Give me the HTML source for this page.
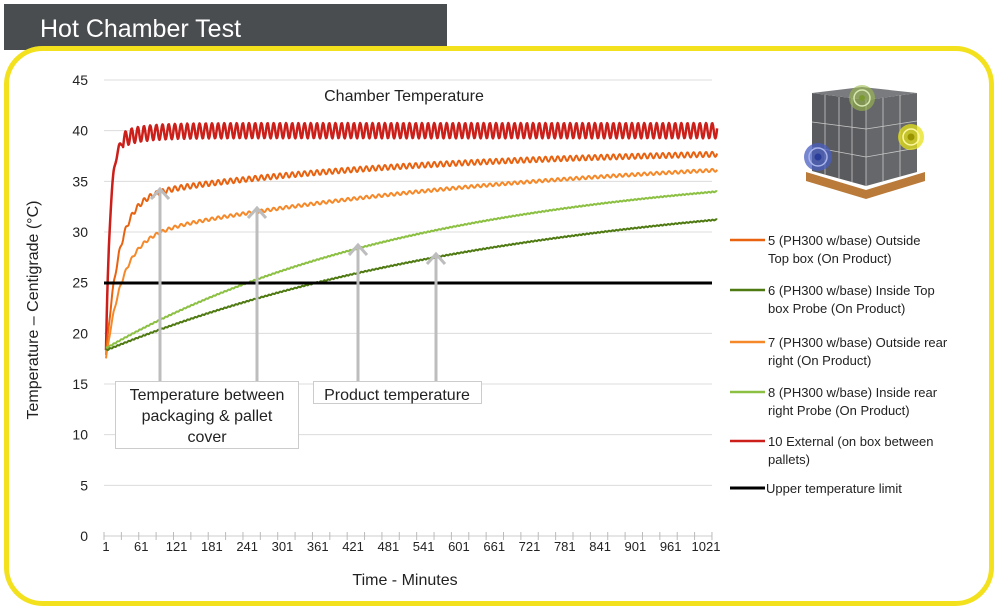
<!DOCTYPE html>
<html><head><meta charset="utf-8"><style>
html,body{margin:0;padding:0;background:#fff;}
body{width:1000px;height:612px;position:relative;overflow:hidden;font-family:"Liberation Sans",sans-serif;}
svg{position:absolute;left:0;top:0;}
</style></head><body>
<svg id="s" width="1000" height="612" xmlns="http://www.w3.org/2000/svg">
<rect x="4" y="4" width="443" height="46" fill="#4a4d50"/>
<text x="40" y="37" font-size="25" fill="#fff" font-family="Liberation Sans, sans-serif">Hot Chamber Test</text>
<rect x="6.5" y="48.5" width="985" height="555" rx="36" ry="36" fill="#fff" stroke="#f2e11c" stroke-width="5"/>
<g id="grid" stroke="#dcdcdc" stroke-width="1"></g>
<g id="ylab" font-size="14" fill="#222" text-anchor="end"></g>
<g id="xlab" font-size="13" fill="#222" text-anchor="middle"></g>
<line x1="104" y1="536" x2="712" y2="536" stroke="#ccc"/>
<g id="ticks" stroke="#bbb"></g>
<text x="405" y="585" font-size="16" text-anchor="middle" fill="#222">Time - Minutes</text>
<text transform="translate(38,310) rotate(-90)" font-size="16" text-anchor="middle" fill="#222">Temperature – Centigrade (°C)</text>
<text x="404" y="101" font-size="16" text-anchor="middle" fill="#222">Chamber Temperature</text>
<g id="series" fill="none"></g>
<line x1="104" y1="283" x2="712" y2="283" stroke="#000" stroke-width="3"/>
<g stroke="#bdbdbd" stroke-width="3" fill="none">
<line x1="160" y1="381" x2="160" y2="190"/><polyline points="151,199 160,189 169,199"/>
<line x1="257" y1="381" x2="257" y2="209"/><polyline points="248,218 257,208 266,218"/>
<line x1="358" y1="381" x2="358" y2="246"/><polyline points="349,255 358,245 367,255"/>
<line x1="436" y1="381" x2="436" y2="255"/><polyline points="427,264 436,254 445,264"/>
</g>
<rect x="115.5" y="381.5" width="183" height="67" fill="#fff" stroke="#ccc"/>
<text font-size="16" fill="#222" text-anchor="middle"><tspan x="207" y="400">Temperature between</tspan><tspan x="207" y="421">packaging &amp; pallet</tspan><tspan x="207" y="442">cover</tspan></text>
<rect x="313.5" y="381.5" width="168" height="22" fill="#fff" stroke="#ccc"/>
<text x="397" y="400" font-size="16" fill="#222" text-anchor="middle">Product temperature</text>
<g stroke-width="2.5">
<line x1="730" y1="240" x2="765" y2="240" stroke="#e8620f"/>
<line x1="730" y1="290" x2="765" y2="290" stroke="#4f7a12"/>
<line x1="730" y1="342" x2="765" y2="342" stroke="#f5892a"/>
<line x1="730" y1="392" x2="765" y2="392" stroke="#8cc043"/>
<line x1="730" y1="441" x2="765" y2="441" stroke="#cc1f1a"/>
<line x1="730" y1="488" x2="765" y2="488" stroke="#000" stroke-width="3"/>
</g>
<g font-size="13" fill="#222">
<text x="768" y="245">5 (PH300 w/base)  Outside</text><text x="768" y="263">Top box (On Product)</text>
<text x="768" y="295">6 (PH300 w/base) Inside Top</text><text x="768" y="313">box Probe (On Product)</text>
<text x="768" y="347">7 (PH300 w/base) Outside rear</text><text x="768" y="365">right (On Product)</text>
<text x="768" y="397">8 (PH300 w/base) Inside rear</text><text x="768" y="415">right Probe (On Product)</text>
<text x="768" y="446">10 External (on box between</text><text x="768" y="464">pallets)</text>
<text x="766" y="493">Upper temperature limit</text>
</g>
<!-- pallet -->
<polygon points="806,172 866,190 925,172 925,181 866,199 806,181" fill="#b97a3a"/>
<polygon points="812,93 866,100 866,186 812,171" fill="#5a5b5e"/>
<polygon points="866,100 917,93 917,172 866,186" fill="#66676a"/>
<polygon points="812,93 862,87 917,93 866,100" fill="#7a7b7e"/>
<g stroke="#c8c8c8" stroke-width="0.8">
<line x1="812" y1="122" x2="866" y2="129"/><line x1="866" y1="129" x2="917" y2="121"/>
<line x1="812" y1="147" x2="866" y2="157"/><line x1="866" y1="157" x2="917" y2="148"/>
<line x1="866" y1="100" x2="866" y2="186"/>
<line x1="825" y1="95" x2="825" y2="175"/><line x1="839" y1="97" x2="839" y2="179"/><line x1="852" y1="98" x2="852" y2="182"/>
<line x1="883" y1="98" x2="883" y2="181"/><line x1="900" y1="95" x2="900" y2="177"/>
</g>
<g fill="none">
<circle cx="862" cy="98" r="13" fill="#9bbb4f" opacity="0.6"/><circle cx="862" cy="98" r="8" stroke="#d8e8b0" stroke-width="1.5"/><circle cx="862" cy="98" r="3" fill="#7a9a30"/>
<circle cx="911" cy="137" r="13" fill="#e6e21a" opacity="0.75"/><circle cx="911" cy="137" r="8" stroke="#fff8a0" stroke-width="1.5"/><circle cx="911" cy="137" r="3.5" fill="#9a9400"/>
<circle cx="818" cy="157" r="14" fill="#4a5ec0" opacity="0.75"/><circle cx="818" cy="157" r="9" stroke="#a8b4ea" stroke-width="1.5"/><circle cx="818" cy="157" r="3.5" fill="#2a3c9a"/>
</g>
</svg>
<script>
var NS="http://www.w3.org/2000/svg";
function el(p,t,a,txt){var e=document.createElementNS(NS,t);for(var k in a)e.setAttribute(k,a[k]);if(txt!==undefined)e.textContent=txt;document.getElementById(p).appendChild(e);return e;}
function Y(v){return 536-v*10.133;}
function X(t){return 106+(t-1)*0.5882;}
for(var v=5;v<=45;v+=5){el("grid","line",{x1:104,x2:712,y1:Y(v),y2:Y(v)});}
for(var v=0;v<=45;v+=5){el("ylab","text",{x:88,y:Y(v)+5},String(v));}
for(var i=0;i<18;i++){var t=1+60*i;el("xlab","text",{x:X(t),y:551},String(t));}
for(var i=0;i<=35;i++){var x=104+i*17.37;el("ticks","line",{x1:x,x2:x,y1:532,y2:540});}
function path(f,col,w){var d="";for(var t=1;t<=1040;t+=1){var v=f(t);d+=(t==1?"M":"L")+X(t).toFixed(1)+","+Y(v).toFixed(1);}el("series","path",{d:d,stroke:col,"stroke-width":w,"stroke-linejoin":"round"});}
var P=10.5;
function E(t,tau){return 1-Math.exp(-t/tau);}
path(function(t){var b=16.5+23.5*E(t,7);b+= -1.5*Math.exp(-t/40);var a=t<30?0.3:0.75;return b+a*Math.sin(2*Math.PI*t/P);},"#cc1f1a",2.5);
path(function(t){var b=17+16.3*E(t,22)+5*E(t,500);return b+0.25*Math.sin(2*Math.PI*t/P);},"#e8620f",2);
path(function(t){var b=17+12.3*E(t,28)+8.8*E(t,700);return b+0.15*Math.sin(2*Math.PI*t/P);},"#f5892a",2);
path(function(t){return 18.5+18.25*E(t,550)+0.05*Math.sin(t);},"#8cc043",2);
path(function(t){return 18.3+16.7*E(t,700)+0.05*Math.sin(t);},"#4f7a12",2);
</script>
</body></html>
